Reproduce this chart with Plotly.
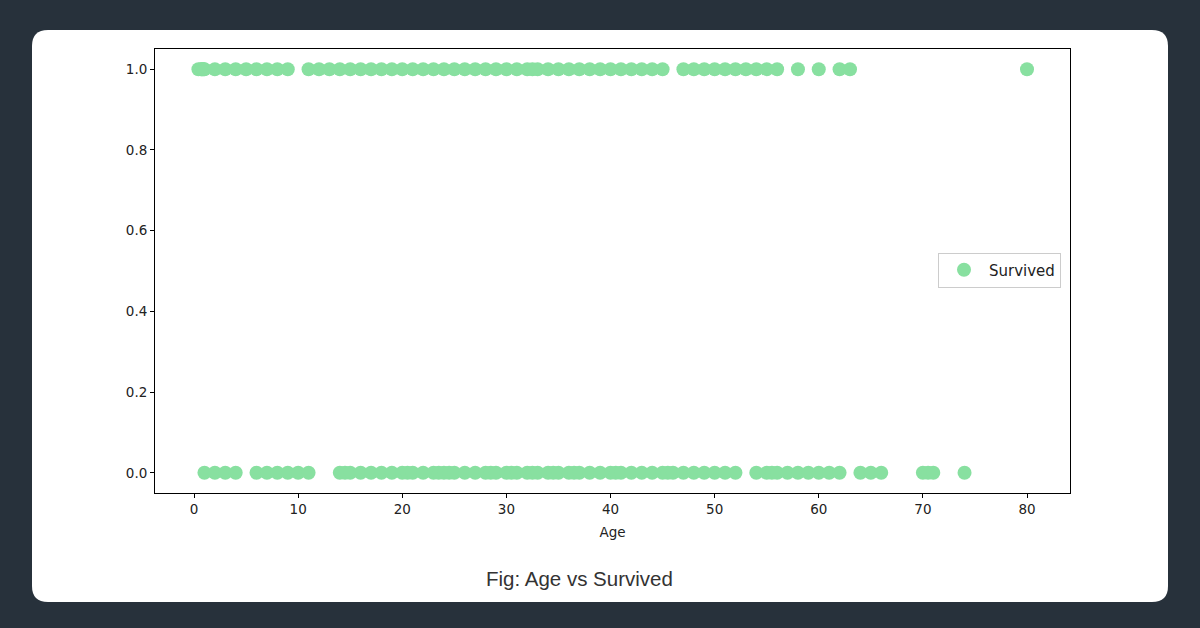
import plotly.graph_objects as go

# Ages of passengers who survived (Survived = 1) and who did not (Survived = 0)
survived_ages = [0.42, 0.67, 0.75, 0.83, 0.92, 1, 2, 3, 4, 5, 6, 7, 8, 9,
                 11, 12, 13, 14, 15, 16, 17, 18, 19, 20, 21, 22, 23, 24, 25,
                 26, 27, 28, 29, 30, 31, 32, 32.5, 33, 34, 35, 36, 37, 38, 39,
                 40, 41, 42, 43, 44, 45, 47, 48, 49, 50, 51, 52, 53, 54, 55,
                 56, 58, 60, 62, 63, 80]
died_ages = [1, 2, 3, 4, 6, 7, 8, 9, 10, 11, 14, 14.5, 15, 16, 17, 18, 19,
             20, 20.5, 21, 22, 23, 23.5, 24, 24.5, 25, 26, 27, 28, 28.5, 29,
             30, 30.5, 31, 32, 32.5, 33, 34, 34.5, 35, 36, 36.5, 37, 38, 39,
             40, 40.5, 41, 42, 43, 44, 45, 45.5, 46, 47, 48, 49, 50, 51, 52,
             54, 55, 55.5, 56, 57, 58, 59, 60, 61, 62, 64, 65, 66, 70, 70.5,
             71, 74]

ages = survived_ages + died_ages
survived = [1] * len(survived_ages) + [0] * len(died_ages)

x_ticks = [0, 10, 20, 30, 40, 50, 60, 70, 80]
y_ticks = [0.0, 0.2, 0.4, 0.6, 0.8, 1.0]
y_tick_labels = ["0.0", "0.2", "0.4", "0.6", "0.8", "1.0"]

W, H = 1200, 628
L, R, T, B = 155, 130, 49, 135
PW, PH = W - L - R, H - T - B


def px(x):
    return (x - L) / PW


def py(y):
    return (H - B - y) / PH


# rounded white card (pixel geometry converted to paper coords)
cx0, cy0, cx1, cy1, rad = 32, 30, 1168, 602, 16
card_path = (
    f"M {px(cx0 + rad)} {py(cy0)} "
    f"L {px(cx1 - rad)} {py(cy0)} "
    f"Q {px(cx1)} {py(cy0)} {px(cx1)} {py(cy0 + rad)} "
    f"L {px(cx1)} {py(cy1 - rad)} "
    f"Q {px(cx1)} {py(cy1)} {px(cx1 - rad)} {py(cy1)} "
    f"L {px(cx0 + rad)} {py(cy1)} "
    f"Q {px(cx0)} {py(cy1)} {px(cx0)} {py(cy1 - rad)} "
    f"L {px(cx0)} {py(cy0 + rad)} "
    f"Q {px(cx0)} {py(cy0)} {px(cx0 + rad)} {py(cy0)} Z"
)

fig = go.Figure()
fig.add_trace(go.Scatter(
    x=ages, y=survived, mode="markers", name="Survived",
    marker=dict(size=14, color="#88e0a0", line=dict(width=0)),
    showlegend=True,
))

axis_font = dict(family="DejaVu Sans", size=13.5, color="#222222")

fig.update_layout(
    width=W, height=H,
    margin=dict(l=L, r=R, t=T, b=B, pad=0),
    paper_bgcolor="#27313b",
    plot_bgcolor="white",
    showlegend=True,
    legend=dict(
        x=px(1061), y=py(270), xanchor="right", yanchor="middle",
        bgcolor="white", bordercolor="#cccccc", borderwidth=1,
        itemwidth=40,
        font=dict(family="DejaVu Sans", size=15, color="#222222"),
    ),
    shapes=[dict(type="path", xref="paper", yref="paper", path=card_path,
                 fillcolor="white", line=dict(width=0), layer="below")],
    annotations=[dict(
        text="Fig: Age vs Survived", xref="paper", yref="paper",
        x=px(579), y=py(578), xanchor="center", yanchor="middle",
        showarrow=False,
        font=dict(family="Liberation Sans, Arial", size=20.5, color="#333333"),
    )],
    xaxis=dict(
        range=[-3.75, 84.13], tickvals=x_ticks,
        showline=True, linecolor="black", linewidth=1, mirror=True,
        ticks="outside", ticklen=4, tickcolor="black", showgrid=False,
        zeroline=False, tickfont=axis_font,
        title=dict(text="Age", font=axis_font, standoff=11),
    ),
    yaxis=dict(
        range=[-0.05, 1.05], tickvals=y_ticks, ticktext=y_tick_labels,
        showline=True, linecolor="black", linewidth=1, mirror=True,
        ticks="outside", ticklen=4, tickcolor="black", showgrid=False,
        zeroline=False, tickfont=axis_font,
    ),
)

fig.write_html(
    "out.html",
    config={"displayModeBar": False},
    post_script="document.body.style.margin='0';document.body.style.background='#27313b';",
)
